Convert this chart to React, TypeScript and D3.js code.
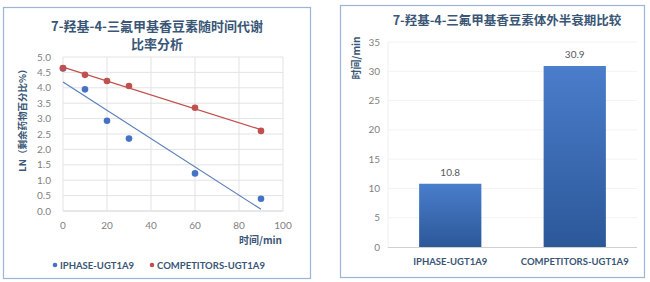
import React from "react";
import * as d3 from "d3";

const timePoints = [0, 10, 20, 30, 60, 90];
const iphaseLn = [4.63, 3.95, 2.93, 2.35, 1.22, 0.4];
const competitorsLn = [4.64, 4.42, 4.22, 4.06, 3.35, 2.6];
const seriesNames = ["IPHASE-UGT1A9", "COMPETITORS-UGT1A9"];
const xTicks = [0, 20, 40, 60, 80, 100];
const yTicksLeft = [0, 0.5, 1, 1.5, 2, 2.5, 3, 3.5, 4, 4.5, 5];
const barCategories = ["IPHASE-UGT1A9", "COMPETITORS-UGT1A9"];
const halfLives = [10.8, 30.9];
const yTicksRight = [0, 5, 10, 15, 20, 25, 30, 35];

const leftTitle = ["7-羟基-4-三氟甲基香豆素随时间代谢", "比率分析"];
const rightTitle = "7-羟基-4-三氟甲基香豆素体外半衰期比较";

const BLUE = "#4472C4";
const RED = "#C0504D";
const TITLE = "#3A5676";
const TICK = "#7F7F7F";
const GRID = "#E3E3E3";
const CJK = "'Noto Sans CJK SC', sans-serif";
const LAT = "Lato, 'Noto Sans', sans-serif";

function fit(xs: number[], ys: number[]) {
  const mx = d3.mean(xs)!;
  const my = d3.mean(ys)!;
  let sxy = 0, sxx = 0;
  xs.forEach((x, i) => {
    sxy += (x - mx) * (ys[i] - my);
    sxx += (x - mx) * (x - mx);
  });
  const b = sxy / sxx;
  return { a: my - b * mx, b };
}

export default function App() {
  // Left chart
  const x = d3.scaleLinear().domain([0, 100]).range([63, 283]);
  const y = d3.scaleLinear().domain([0, 5]).range([211, 57]);
  const series = [
    { name: seriesNames[0], vals: iphaseLn, color: BLUE, line: "#5A7FB8" },
    { name: seriesNames[1], vals: competitorsLn, color: RED, line: "#C0504D" },
  ];

  // Right chart
  const xb = d3.scaleBand().domain(barCategories).range([388, 637]).paddingInner(0.5).paddingOuter(0.25);
  const yb = d3.scaleLinear().domain([0, 35]).range([247, 42]);

  return (
    <svg width={650} height={282} style={{ position: "absolute", left: 0, top: 0 }}>
      <defs>
        <linearGradient id="barGrad" x1="0" y1="0" x2="0" y2="1">
          <stop offset="0" stopColor="#4A7DCB" />
          <stop offset="1" stopColor="#2C5899" />
        </linearGradient>
      </defs>
      <rect x={0} y={0} width={650} height={282} fill="#fff" />
      {/* Left panel */}
      <rect x={3.5} y={7.5} width={307} height={271} fill="#fff" stroke="#9DB3D8" strokeWidth={1.2} />
      <text x={157} y={31} textAnchor="middle" fontFamily={CJK} fontWeight="bold" fontSize={13} fill={TITLE}>{leftTitle[0]}</text>
      <text x={157} y={49} textAnchor="middle" fontFamily={CJK} fontWeight="bold" fontSize={13} fill={TITLE}>{leftTitle[1]}</text>
      {yTicksLeft.map((t) => (
        <g key={"yl" + t}>
          <line x1={63} x2={283} y1={y(t)} y2={y(t)} stroke={t === 0 ? "#D0D0D0" : GRID} />
          <text x={51} y={y(t) + 3.5} textAnchor="end" fontFamily={LAT} fontSize={10} fill={TICK}>{t.toFixed(1)}</text>
        </g>
      ))}
      {xTicks.map((t) => (
        <g key={"xl" + t}>
          <line x1={x(t)} x2={x(t)} y1={57} y2={211} stroke={GRID} />
          <text x={x(t)} y={229} textAnchor="middle" fontFamily={LAT} fontSize={10} fill={TICK}>{t}</text>
        </g>
      ))}
      <text x={282} y={244} textAnchor="end" fontFamily={CJK} fontWeight="bold" fontSize={10} fill={TITLE}>时间/min</text>
      <text transform={`translate(26,118) rotate(-90)`} textAnchor="middle" fontFamily={CJK} fontWeight="bold" fontSize={9.5} fill={TITLE}>LN（剩余药物百分比%）</text>
      {series.map((s) => {
        const { a, b } = fit(timePoints, s.vals);
        const x0 = timePoints[0];
        const x1 = timePoints[timePoints.length - 1];
        return (
          <g key={s.name}>
            <line x1={x(x0)} y1={y(a + b * x0)} x2={x(x1)} y2={y(a + b * x1)} stroke={s.line} strokeWidth={1.2} />
          </g>
        );
      })}
      {series.map((s) =>
        s.vals.map((v, i) => (
          <circle key={s.name + i} cx={x(timePoints[i])} cy={y(v)} r={3.3} fill={s.color} />
        ))
      )}
      {/* legend */}
      <circle cx={55} cy={265} r={2.3} fill={BLUE} />
      <text x={60} y={268.5} fontFamily={LAT} fontWeight="bold" fontSize={9.5} fill={TITLE}>{seriesNames[0]}</text>
      <circle cx={152} cy={265} r={2.3} fill={RED} />
      <text x={157} y={268.5} fontFamily={LAT} fontWeight="bold" fontSize={9.5} fill={TITLE}>{seriesNames[1]}</text>

      {/* Right panel */}
      <rect x={340.5} y={5.5} width={304} height={272} fill="#fff" stroke="#9DB3D8" strokeWidth={1.2} />
      <text x={507} y={25} textAnchor="middle" fontFamily={CJK} fontWeight="bold" fontSize={12.5} fill={TITLE}>{rightTitle}</text>
      {yTicksRight.map((t) => (
        <g key={"yr" + t}>
          {t > 0 && <line x1={388} x2={637} y1={yb(t)} y2={yb(t)} stroke="#F3F3F3" />}
          <text x={380} y={yb(t) + 3.5} textAnchor="end" fontFamily={LAT} fontSize={10} fill={TICK}>{t}</text>
        </g>
      ))}
      <line x1={388} x2={388} y1={42} y2={247} stroke="#F0F0F0" />
      <line x1={388} x2={637} y1={247.5} y2={247.5} stroke="#D0D0D0" />
      <text transform={`translate(360,58) rotate(-90)`} textAnchor="middle" fontFamily={CJK} fontWeight="bold" fontSize={10} fill={TITLE}>时间/min</text>
      {barCategories.map((c, i) => (
        <g key={c}>
          <rect x={xb(c)!} y={yb(halfLives[i])} width={xb.bandwidth()} height={yb(0) - yb(halfLives[i])} fill="url(#barGrad)" />
          <text x={xb(c)! + xb.bandwidth() / 2} y={yb(halfLives[i]) - 8} textAnchor="middle" fontFamily={LAT} fontSize={10} fill="#595959">{halfLives[i].toFixed(1)}</text>
          <text x={xb(c)! + xb.bandwidth() / 2} y={265} textAnchor="middle" fontFamily={LAT} fontWeight="bold" fontSize={9.5} fill={TITLE}>{c}</text>
        </g>
      ))}
    </svg>
  );
}
